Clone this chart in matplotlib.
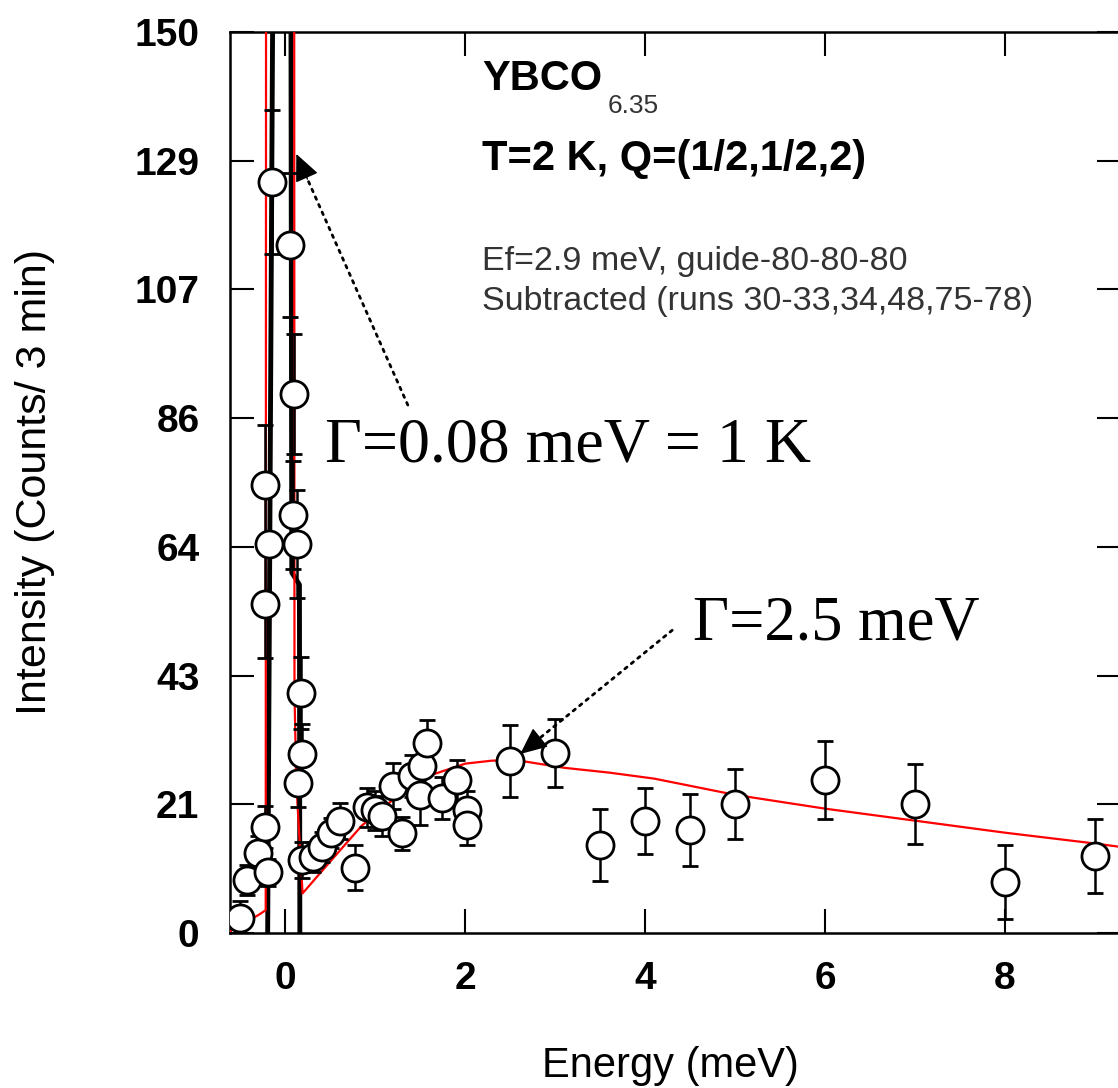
import matplotlib
matplotlib.use("Agg")
import matplotlib.pyplot as plt
import numpy as np

# ---------------- data ----------------
energy = [-0.51, -0.43, -0.31, -0.23, -0.20, -0.23, -0.18, -0.23, -0.15,
          0.05, 0.10, 0.08, 0.13, 0.17, 0.18, 0.14, 0.18,
          0.31, 0.41, 0.51, 0.61, 0.77, 0.91, 1.00, 1.07, 1.20, 1.30,
          1.41, 1.50, 1.52, 1.57, 1.74, 1.91, 2.02, 2.02,
          2.5, 3.0, 3.5, 4.0, 4.5, 5.0, 6.0, 7.0, 8.0, 9.0]
intensity = [2.5, 8.8, 13.3, 17.6, 10.1, 54.7, 64.8, 74.6, 125.0,
             114.5, 89.7, 69.6, 64.8, 40.0, 29.8, 25.0, 12.1,
             12.6, 14.3, 16.6, 18.7, 10.9, 20.9, 20.4, 19.5, 24.5, 16.6,
             26.2, 22.9, 27.8, 31.7, 22.5, 25.4, 20.4, 17.9,
             28.7, 30.0, 14.6, 18.7, 17.1, 21.5, 25.4, 21.5, 8.5, 12.8]
error = [2.8, 2.5, 2.8, 3.5, 2.3, 9, 10, 10, 12,
         12, 10, 9, 9, 6, 5, 4, 3,
         2.5, 2.5, 2.5, 3.0, 3.8, 3.3, 3.3, 3.3, 3.8, 2.7,
         3.5, 5.0, 3.5, 3.8, 3.5, 3.4, 3.3, 3.3,
         6.0, 5.7, 6.0, 5.5, 6.0, 5.8, 6.5, 6.6, 6.2, 6.2]

red_x = [-0.62, -0.50, -0.40, -0.30, -0.22, -0.21, 0.09, 0.10, 0.12, 0.19,
         0.48, 0.85, 1.18, 1.6, 2.0, 2.3, 2.6, 3.1, 3.6, 4.1, 5.0, 6.0,
         7.0, 8.0, 9.0, 9.3]
red_y = [0.3, 1.3, 2.2, 3.0, 3.8, 400, 400, 40, 25, 6.6,
         11.6, 17.9, 22.0, 26.2, 28.2, 28.7, 28.7, 27.5, 26.7, 25.7, 23.0, 20.7,
         18.7, 16.7, 14.9, 14.3]

black_x = [-0.20, -0.14, 0.06, 0.07, 0.155, 0.16]
black_y = [-5, 160, 160, 60, 58, -5]

ytick_vals = [0, 150/7, 300/7, 450/7, 600/7, 750/7, 900/7, 150]
ytick_labels = ["0", "21", "43", "64", "86", "107", "129", "150"]
xtick_vals = [0, 2, 4, 6, 8]
xtick_labels = ["0", "2", "4", "6", "8"]

W, H = 1118, 1088
fig = plt.figure(figsize=(W/100, H/100), dpi=100)
left, right, top, bottom = 230, 1121, 32, 933
ax = fig.add_axes([left/W, 1-bottom/H, (right-left)/W, (bottom-top)/H])

ax.plot(black_x, black_y, color="black", lw=3.5, zorder=2)
ax.plot(red_x, red_y, color="#ff0000", lw=1.6, zorder=3)
ax.errorbar(energy, intensity, yerr=error, fmt="o", ms=19.5, mfc="white",
            mec="black", mew=2.0, ecolor="black", elinewidth=1.8,
            capsize=6, capthick=1.8, zorder=4)

ax.set_xlim(-0.617, 9.29)
ax.set_ylim(0, 150)
ax.set_yticks(ytick_vals)
ax.set_yticklabels(ytick_labels)
ax.set_xticks(xtick_vals)
ax.set_xticklabels(xtick_labels)
ax.tick_params(direction="in", length=17, width=1.5, top=True, right=True,
               labelsize=28)
ax.tick_params(axis="x", pad=20)
ax.tick_params(axis="y", pad=22)
for lab in ax.get_xticklabels() + ax.get_yticklabels():
    lab.set_fontweight("bold")
    lab.set_fontfamily("Liberation Sans")
for s in ax.spines.values():
    s.set_linewidth(1.8)

def ft(x, y, s, **kw):
    fig.text(x/W, 1-y/H, s, **kw)

ft(482, 90, "YBCO", fontsize=30, fontweight="bold", family="Liberation Sans", va="baseline")
ft(608, 113, "6.35", fontsize=19, family="Liberation Sans", color="#333333", va="baseline")
ft(482, 170, "T=2 K, Q=(1/2,1/2,2)", fontsize=30, fontweight="bold", family="Liberation Sans", va="baseline")
ft(482, 270, "Ef=2.9 meV, guide-80-80-80", fontsize=24.5, family="Liberation Sans", color="#333333", va="baseline")
ft(482, 310, "Subtracted (runs 30-33,34,48,75-78)", fontsize=24.5, family="Liberation Sans", color="#333333", va="baseline")
ft(325, 462, "Γ=0.08 meV = 1 K", fontsize=46, family="Liberation Serif", va="baseline")
ft(693, 640, "Γ=2.5 meV", fontsize=45, family="Liberation Serif", va="baseline")

ft(670, 1077, "Energy (meV)", fontsize=30, family="Liberation Sans", ha="center", va="baseline")
ft(35, 482, "Intensity (Counts/ 3 min)", fontsize=31, family="Liberation Sans", ha="center", va="center", rotation=90)

# dotted arrows with solid heads
line_style = dict(arrowstyle="-", linestyle=(0, (1, 2)), lw=2, color="black", shrinkA=0, shrinkB=0)
head_style = dict(arrowstyle="-|>,head_length=1.0,head_width=0.45", lw=1, color="black",
                  mutation_scale=17, shrinkA=0, shrinkB=0)
arrows = [((0.12, 129.7), (1.36, 87.9)), ((2.61, 29.8), (4.30, 50.4))]
for head, tail in arrows:
    ax.annotate("", xy=head, xytext=tail, arrowprops=line_style, zorder=6)
    hx = head[0] + (tail[0] - head[0]) * 0.1
    hy = head[1] + (tail[1] - head[1]) * 0.1
    ax.annotate("", xy=head, xytext=(hx, hy), arrowprops=head_style, zorder=6)

fig.savefig("out.png", dpi=100)
